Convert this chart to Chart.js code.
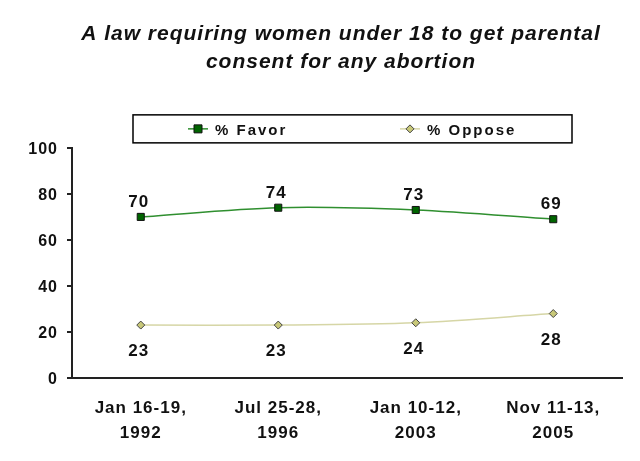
<!DOCTYPE html>
<html>
<head>
<meta charset="utf-8">
<script src="https://cdn.jsdelivr.net/npm/chart.js"></script>
<style>
  html, body { margin: 0; padding: 0; background: #fff; }
  #wrap { width: 640px; height: 461px; }
</style>
</head>
<body>
<div id="wrap"><canvas id="pollChart"></canvas></div>
<script>
const categories = [['Jan 16-19,', '1992'], ['Jul 25-28,', '1996'], ['Jan 10-12,', '2003'], ['Nov 11-13,', '2005']];
const favorValues = [70, 74, 73, 69];
const opposeValues = [23, 23, 24, 28];
const yTicks = [0, 20, 40, 60, 80, 100];
const titleLines = ['A law requiring women under 18 to get parental', 'consent for any abortion'];

const FONT = 'Arial, "Liberation Sans", sans-serif';

// the original text is a bit tracked out; canvas state gets reset on resize so set it often
// also nudges the title box right so it sits over the plot like the original
const tracking = {
    id: 'tracking',
    beforeUpdate(chart) { chart.ctx.letterSpacing = '1px'; },
    beforeLayout(chart) { chart.ctx.letterSpacing = '1px'; },
    afterLayout(chart) {
        if (chart.titleBlock) chart.titleBlock.left = chart.chartArea.left - 12;
    },
    beforeDraw(chart) { chart.ctx.letterSpacing = '1px'; }
};

// draws values above (favor) / below (oppose) each point
const pointLabels = {
    id: 'pointLabels',
    afterDatasetsDraw(chart) {
        const ctx = chart.ctx;
        ctx.save();
        ctx.font = 'bold 17px ' + FONT;
        ctx.letterSpacing = '1px';
        ctx.fillStyle = '#111';
        ctx.textAlign = 'center';
        ctx.textBaseline = 'alphabetic';
        chart.data.datasets.forEach((ds, i) => {
            const meta = chart.getDatasetMeta(i);
            meta.data.forEach((pt, j) => {
                if (ds.labelPos === 'above') {
                    ctx.fillText(ds.data[j], pt.x - 2, pt.y - 10);
                } else {
                    ctx.fillText(ds.data[j], pt.x - 2, pt.y + 31);
                }
            });
        });
        ctx.restore();
    }
};

// boxed legend like the original
const boxLegend = {
    id: 'boxLegend',
    afterDraw(chart) {
        const ctx = chart.ctx;
        const area = chart.chartArea;
        const left = area.left + 61, right = area.right - 50;
        const top = area.top - 33, h = 28;
        ctx.save();
        ctx.strokeStyle = '#000';
        ctx.lineWidth = 1.5;
        ctx.strokeRect(left, top, right - left, h);
        ctx.font = 'bold 15px ' + FONT;
        ctx.letterSpacing = '2px';
        ctx.textBaseline = 'middle';
        ctx.textAlign = 'left';
        const cy = top + h / 2;
        const starts = [left + 55, left + 267];
        chart.data.datasets.forEach((ds, i) => {
            const x = starts[i];
            ctx.strokeStyle = ds.borderColor;
            ctx.lineWidth = 1.5;
            ctx.beginPath();
            ctx.moveTo(x, cy);
            ctx.lineTo(x + 20, cy);
            ctx.stroke();
            ctx.fillStyle = ds.pointBackgroundColor;
            ctx.strokeStyle = ds.pointBorderColor;
            ctx.lineWidth = 1;
            ctx.beginPath();
            if (ds.pointStyle === 'rect') {
                ctx.rect(x + 6, cy - 4, 8, 8);
            } else {
                ctx.moveTo(x + 10, cy - 4);
                ctx.lineTo(x + 14, cy);
                ctx.lineTo(x + 10, cy + 4);
                ctx.lineTo(x + 6, cy);
                ctx.closePath();
            }
            ctx.fill();
            ctx.stroke();
            ctx.fillStyle = '#111';
            ctx.fillText(ds.label, x + 27, cy + 2);
        });
        ctx.restore();
    }
};

new Chart(document.getElementById('pollChart'), {
    type: 'line',
    data: {
        labels: categories,
        datasets: [
            {
                label: '% Favor',
                data: favorValues,
                borderColor: '#2f8f2f',
                borderWidth: 1.5,
                pointStyle: 'rect',
                pointRadius: 5,
                pointBackgroundColor: '#006400',
                pointBorderColor: '#111',
                pointBorderWidth: 1,
                tension: 0.3,
                labelPos: 'above'
            },
            {
                label: '% Oppose',
                data: opposeValues,
                borderColor: '#d6d6a6',
                borderWidth: 1.5,
                pointStyle: 'rectRot',
                pointRadius: 4,
                pointBackgroundColor: '#c8c878',
                pointBorderColor: '#444',
                pointBorderWidth: 1,
                tension: 0.3,
                labelPos: 'below'
            }
        ]
    },
    options: {
        responsive: true,
        maintainAspectRatio: false,
        animation: false,
        layout: { padding: { left: 0, right: 18, top: 0, bottom: 8 } },
        plugins: {
            legend: { display: false },
            tooltip: { enabled: false },
            title: {
                display: true,
                text: titleLines,
                color: '#111',
                font: { family: FONT, size: 21, weight: 'bold', style: 'italic', lineHeight: 1.33 },
                padding: { top: 20.5, bottom: 71.5 }
            }
        },
        scales: {
            x: {
                offset: true,
                grid: { display: false, drawTicks: false },
                border: { color: '#222', width: 2 },
                ticks: {
                    color: '#111',
                    padding: 18,
                    maxRotation: 0,
                    font: { family: FONT, size: 17, weight: 'bold', lineHeight: 1.45 }
                },
                afterFit(scale) { scale.height = 75; }
            },
            y: {
                min: 0,
                max: 100,
                afterBuildTicks(scale) { scale.ticks = yTicks.map(v => ({ value: v })); },
                grid: { drawOnChartArea: false, drawTicks: true, tickLength: 5, color: '#222', lineWidth: 2 },
                border: { color: '#222', width: 2 },
                ticks: {
                    color: '#111',
                    padding: 9,
                    labelOffset: 2,
                    font: { family: FONT, size: 16, weight: 'bold' }
                },
                afterFit(scale) { scale.width = 72; }
            }
        }
    },
    plugins: [tracking, pointLabels, boxLegend]
});
</script>
</body>
</html>
